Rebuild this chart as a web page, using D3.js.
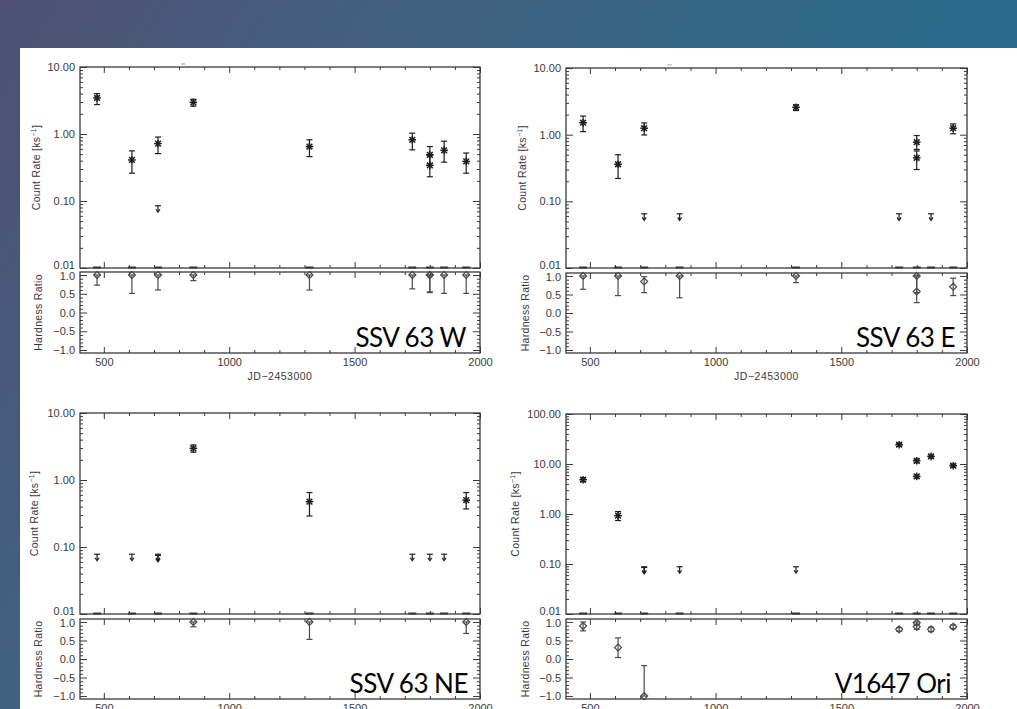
<!DOCTYPE html>
<html>
<head>
<meta charset="utf-8">
<script src="https://cdn.jsdelivr.net/npm/d3@7"></script>
<style>
  html, body { margin: 0; padding: 0; background: #3f6080; }
  svg { display: block; }
  .tick text { font-family: "Liberation Sans", Arial, sans-serif; font-size: 11px; fill: #3a3a3a; }
</style>
</head>
<body>
<svg id="chart" width="1017" height="709"></svg>
<script>
// ---------- DATA (JD-2453000, values) ----------
const epochs = [473, 612, 716, 857, 1320, 1730, 1800, 1857, 1945];
const xTicks = [500, 1000, 1500, 2000];
const hrTicks = [-1.0, -0.5, 0.0, 0.5, 1.0];
const rateTicksSmall = [0.01, 0.1, 1, 10];
const rateTicksLarge = [0.01, 0.1, 1, 10, 100];
const sourceNames = ["SSV 63 W", "SSV 63 E", "SSV 63 NE", "V1647 Ori"];

// detections: [JD, rate, low, high]   (count rate, ks^-1)
const w_rate = [[473,3.45,2.75,4.0],[612,0.41,0.26,0.56],[716,0.72,0.51,0.90],[857,2.96,2.6,3.3],
                [1320,0.65,0.46,0.82],[1730,0.82,0.58,1.03],[1800,0.49,0.36,0.65],[1800,0.34,0.23,0.48],
                [1857,0.57,0.38,0.78],[1945,0.39,0.26,0.52]];
const w_ul = [[716,0.085]];
// hardness: [JD, HR, low, high]
const w_hr = [[473,1.0,0.73,1.0],[612,1.0,0.51,1.0],[716,1.0,0.60,1.0],[857,1.0,0.85,1.0],[1320,1.0,0.60,1.0],
              [1730,1.0,0.63,1.0],[1800,1.0,0.55,1.0],[1800,1.0,0.53,1.0],[1857,1.0,0.51,1.0],[1945,1.0,0.51,1.0]];

const e_rate = [[473,1.51,1.11,1.9],[612,0.36,0.22,0.50],[716,1.25,0.99,1.5],[1320,2.58,2.3,2.8],
                [1800,0.77,0.60,0.97],[1800,0.45,0.30,0.57],[1945,1.25,1.03,1.45]];
const e_ul = [[716,0.065],[857,0.065],[1730,0.065],[1857,0.065]];
const e_hr = [[473,1.0,0.64,1.0],[612,1.0,0.47,1.0],[716,0.85,0.55,0.98],[857,1.0,0.41,1.0],[1320,1.0,0.82,1.0],
              [1800,1.0,0.55,1.0],[1800,0.58,0.28,1.0],[1945,0.71,0.47,0.94]];

const ne_rate = [[857,2.97,2.6,3.33],[1320,0.475,0.29,0.65],[1945,0.50,0.37,0.65]];
const ne_ul = [[473,0.078],[612,0.078],[716,0.078],[716,0.075],[1730,0.078],[1800,0.078],[1857,0.078]];
const ne_hr = [[857,1.0,0.87,1.0],[1320,1.0,0.53,1.0],[1945,1.0,0.69,1.0]];

const v_rate = [[473,4.85,4.4,5.3],[612,0.925,0.74,1.12],[1730,24.3,22.5,26.0],[1800,11.6,10.6,12.6],
                [1800,5.65,5.2,6.1],[1857,14.2,13.2,15.2],[1945,9.25,8.6,9.9]];
const v_ul = [[716,0.088],[716,0.085],[857,0.088],[1320,0.088]];
const v_hr = [[473,0.89,0.76,1.0],[612,0.31,0.04,0.57],[716,-1.0,-1.0,-0.18],[1730,0.80,0.75,0.85],
              [1800,0.98,0.92,1.0],[1800,0.87,0.80,0.93],[1857,0.80,0.74,0.86],[1945,0.87,0.82,0.92]];

// ---------- DRAWING ----------
const svg = d3.select("#chart");
const defs = svg.append("defs");
const grad = defs.append("linearGradient").attr("id","bg")
  .attr("gradientUnits","userSpaceOnUse").attr("x1",0).attr("y1",0).attr("x2",700).attr("y2",420);
grad.append("stop").attr("offset","0").attr("stop-color","#4f5173");
grad.append("stop").attr("offset","0.45").attr("stop-color","#41617f");
grad.append("stop").attr("offset","1").attr("stop-color","#2c6b8b");
svg.append("rect").attr("width",1017).attr("height",709).attr("fill","url(#bg)");
svg.append("rect").attr("x",20).attr("y",48).attr("width",997).attr("height",661).attr("fill","#ffffff");

const FONT = '"Liberation Sans", Arial, sans-serif';
const frameColor = "#3a3a3a";

function minorLog(domain) {
  const out = [];
  for (let d = domain[0]; d < domain[1] * 0.999; d *= 10)
    for (let k = 2; k <= 9; k++) out.push(+(d * k).toPrecision(3));
  return out;
}
function range(a, b, s) { const o = []; for (let v = a; v <= b + 1e-9; v += s) o.push(+v.toFixed(3)); return o; }

function panel(cfg) {
  const g = svg.append("g");
  const x = d3.scaleLinear().domain([405, 2000]).range([cfg.x0, cfg.x1]);
  const yC = d3.scaleLog().domain(cfg.cDomain).range([cfg.cBot, cfg.cTop]);
  const yH = d3.scaleLinear().domain([-1.08, 1.08]).range([cfg.hBot, cfg.hTop]);
  const xMinor = range(500, 1900, 100).filter(v => v % 500 !== 0);
  const hMinor = range(-1.0, 1.0, 0.1).filter(v => Math.abs(v * 2 - Math.round(v * 2)) > 1e-6);

  function styleAxis(sel) {
    sel.select(".domain").remove();
    sel.selectAll(".tick line").attr("stroke", frameColor).attr("stroke-width", 1);
  }
  // ---- count-rate panel
  g.append("g").attr("transform",`translate(${cfg.x0},0)`)
    .call(d3.axisLeft(yC).tickValues(cfg.cTicks).tickFormat(d3.format(".2f")).tickSizeInner(-7).tickSizeOuter(0).tickPadding(5))
    .call(styleAxis)
    .call(sel => sel.selectAll(".tick text").filter(d => d === 0.01).attr("transform","translate(0,-3)"));
  g.append("g").attr("transform",`translate(${cfg.x0},0)`)
    .call(d3.axisLeft(yC).tickValues(minorLog(cfg.cDomain)).tickFormat("").tickSize(-3)).call(styleAxis);
  g.append("g").attr("transform",`translate(${cfg.x1},0)`)
    .call(d3.axisRight(yC).tickValues(cfg.cTicks).tickFormat("").tickSize(-7)).call(styleAxis);
  g.append("g").attr("transform",`translate(${cfg.x1},0)`)
    .call(d3.axisRight(yC).tickValues(minorLog(cfg.cDomain)).tickFormat("").tickSize(-3)).call(styleAxis);
  [[cfg.cTop, d3.axisTop],[cfg.cBot, d3.axisBottom],[cfg.hTop, d3.axisTop],[cfg.hBot, d3.axisBottom]].forEach(([yy, ax]) => {
    g.append("g").attr("transform",`translate(0,${yy})`)
      .call(ax(x).tickValues(xTicks).tickFormat("").tickSize(-6)).call(styleAxis);
    g.append("g").attr("transform",`translate(0,${yy})`)
      .call(ax(x).tickValues(xMinor).tickFormat("").tickSize(-3)).call(styleAxis);
  });
  g.append("rect").attr("x",cfg.x0).attr("y",cfg.cTop).attr("width",cfg.x1-cfg.x0).attr("height",cfg.cBot-cfg.cTop)
    .attr("fill","none").attr("stroke",frameColor).attr("stroke-width",1.3);

  // ---- hardness panel
  g.append("g").attr("transform",`translate(${cfg.x0},0)`)
    .call(d3.axisLeft(yH).tickValues(hrTicks).tickFormat(d3.format(".1f")).tickSizeInner(-7).tickSizeOuter(0).tickPadding(5))
    .call(styleAxis)
    .call(sel => sel.selectAll(".tick text").filter(d => d === 1.0).attr("transform","translate(0,1)"));
  g.append("g").attr("transform",`translate(${cfg.x0},0)`)
    .call(d3.axisLeft(yH).tickValues(hMinor).tickFormat("").tickSize(-3)).call(styleAxis);
  g.append("g").attr("transform",`translate(${cfg.x1},0)`)
    .call(d3.axisRight(yH).tickValues(hrTicks).tickFormat("").tickSize(-7)).call(styleAxis);
  g.append("g").attr("transform",`translate(${cfg.x1},0)`)
    .call(d3.axisRight(yH).tickValues(hMinor).tickFormat("").tickSize(-3)).call(styleAxis);
  // x labels
  g.append("g").attr("transform",`translate(0,${cfg.hBot})`)
    .call(d3.axisBottom(x).tickValues(xTicks).tickFormat(d3.format("d")).tickSize(0).tickPadding(5))
    .call(sel => sel.select(".domain").remove());
  g.append("rect").attr("x",cfg.x0).attr("y",cfg.hTop).attr("width",cfg.x1-cfg.x0).attr("height",cfg.hBot-cfg.hTop)
    .attr("fill","none").attr("stroke",frameColor).attr("stroke-width",1.3);

  // axis titles
  const ct = g.append("text").attr("transform",`translate(${cfg.ctX},${(cfg.cTop+cfg.cBot)/2}) rotate(-90)`)
    .attr("text-anchor","middle").attr("font-family",FONT).attr("font-size",10.5).attr("fill","#3a3a3a")
    .attr("letter-spacing",0.3);
  ct.append("tspan").text("Count  Rate  [ks");
  ct.append("tspan").text("−1").attr("font-size",7).attr("dy",-4);
  ct.append("tspan").text("]").attr("dy",4);
  g.append("text").attr("transform",`translate(${cfg.htX},${(cfg.hTop+cfg.hBot)/2}) rotate(-90)`)
    .attr("text-anchor","middle").attr("font-family",FONT).attr("font-size",10.5).attr("fill","#3a3a3a")
    .attr("letter-spacing",0.3).text("Hardness  Ratio");
  if (cfg.xTitle) {
    g.append("text").attr("x",(cfg.x0+cfg.x1)/2).attr("y",cfg.hBot+27).attr("text-anchor","middle")
      .attr("font-family",FONT).attr("font-size",10.5).attr("fill","#3a3a3a").attr("letter-spacing",0.5).text("JD−2453000");
    g.append("line").attr("x1",x(1000)-48).attr("x2",x(1000)-44).attr("y1",cfg.cTop-3).attr("y2",cfg.cTop-3)
      .attr("stroke","#999").attr("stroke-width",1);
  }

  // ---- marks
  const dark = "#1e1e1e";
  // bottom dashes at every epoch (clipped zero points)
  g.selectAll(".dash").data(epochs).join("line")
    .attr("x1",d=>x(d)-4).attr("x2",d=>x(d)+4).attr("y1",cfg.cBot-0.5).attr("y2",cfg.cBot-0.5)
    .attr("stroke","#333").attr("stroke-width",2);

  // count error bars + asterisks
  const eb = g.append("g").attr("stroke",dark).attr("stroke-width",1.2).attr("fill","none");
  cfg.rate.forEach(([jd,v,lo,hi]) => {
    const cx = x(jd);
    eb.append("line").attr("x1",cx).attr("x2",cx).attr("y1",yC(lo)).attr("y2",yC(hi));
    eb.append("line").attr("x1",cx-3).attr("x2",cx+3).attr("y1",yC(lo)).attr("y2",yC(lo));
    eb.append("line").attr("x1",cx-3).attr("x2",cx+3).attr("y1",yC(hi)).attr("y2",yC(hi));
    const cy = yC(v), r = 3.8;
    const star = eb.append("g").attr("stroke-width",1.5);
    star.append("line").attr("x1",cx).attr("x2",cx).attr("y1",cy-r).attr("y2",cy+r);
    star.append("line").attr("x1",cx-r).attr("x2",cx+r).attr("y1",cy).attr("y2",cy);
    star.append("line").attr("x1",cx-r*0.75).attr("x2",cx+r*0.75).attr("y1",cy-r*0.75).attr("y2",cy+r*0.75);
    star.append("line").attr("x1",cx-r*0.75).attr("x2",cx+r*0.75).attr("y1",cy+r*0.75).attr("y2",cy-r*0.75);
  });
  // upper limits
  cfg.ul.forEach(([jd,v]) => {
    const cx = x(jd), cy = yC(v);
    eb.append("line").attr("x1",cx-3).attr("x2",cx+3).attr("y1",cy).attr("y2",cy);
    eb.append("line").attr("x1",cx).attr("x2",cx).attr("y1",cy).attr("y2",cy+6);
    eb.append("path").attr("d",`M${cx-2},${cy+3.5}L${cx},${cy+6.5}L${cx+2},${cy+3.5}`);
  });
  // hardness ratio points with error bars
  const hb = g.append("g").attr("stroke","#4a4a4a").attr("stroke-width",1.2).attr("fill","none");
  cfg.hr.forEach(([jd,v,lo,hi]) => {
    const cx = x(jd);
    hb.append("line").attr("x1",cx).attr("x2",cx).attr("y1",yH(lo)).attr("y2",yH(hi));
    hb.append("line").attr("x1",cx-3).attr("x2",cx+3).attr("y1",yH(lo)).attr("y2",yH(lo));
    hb.append("line").attr("x1",cx-3).attr("x2",cx+3).attr("y1",yH(hi)).attr("y2",yH(hi));
    const cy = yH(v), r = 3.5;
    hb.append("path").attr("d",`M${cx},${cy-r}L${cx+r},${cy}L${cx},${cy+r}L${cx-r},${cy}Z`);
  });

  // source name
  g.append("text").attr("x",cfg.nameX).attr("y",cfg.hBot-6).attr("text-anchor","end")
    .attr("font-family","Lato, 'Open Sans', sans-serif").attr("font-size",26).attr("fill","#000")
    .attr("letter-spacing",-0.5).text(cfg.name);
}

panel({x0:80, x1:480, cTop:67, cBot:268, hTop:272, hBot:353, cDomain:[0.01,10], cTicks:rateTicksSmall,
       rate:w_rate, ul:w_ul, hr:w_hr, name:sourceNames[0], nameX:466, ctX:40, htX:42, xTitle:true});
panel({x0:566, x1:967, cTop:68, cBot:268, hTop:273, hBot:353, cDomain:[0.01,10], cTicks:rateTicksSmall,
       rate:e_rate, ul:e_ul, hr:e_hr, name:sourceNames[1], nameX:955, ctX:526, htX:529, xTitle:true});
panel({x0:80, x1:480, cTop:413, cBot:614, hTop:619, hBot:699, cDomain:[0.01,10], cTicks:rateTicksSmall,
       rate:ne_rate, ul:ne_ul, hr:ne_hr, name:sourceNames[2], nameX:468, ctX:38, htX:42, xTitle:false});
panel({x0:566, x1:967, cTop:414, cBot:614, hTop:619, hBot:699, cDomain:[0.01,100], cTicks:rateTicksLarge,
       rate:v_rate, ul:v_ul, hr:v_hr, name:sourceNames[3], nameX:951, ctX:519, htX:529, xTitle:false});
</script>
</body>
</html>
